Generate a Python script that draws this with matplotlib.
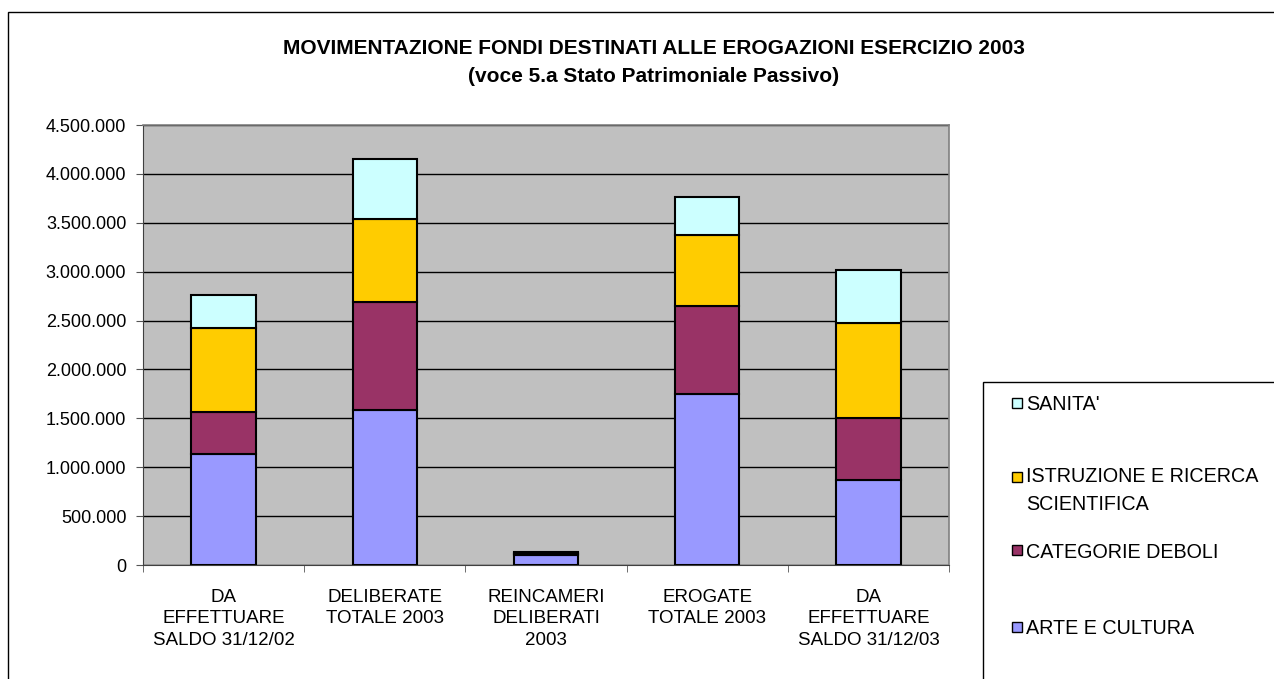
import matplotlib
matplotlib.use("Agg")
import matplotlib.pyplot as plt
import numpy as np
from matplotlib.patches import Rectangle

plt.rcParams['font.family'] = ['Liberation Sans', 'DejaVu Sans']

categories = ["DA\nEFFETTUARE\nSALDO 31/12/02", "DELIBERATE\nTOTALE 2003",
              "REINCAMERI\nDELIBERATI\n2003", "EROGATE\nTOTALE 2003",
              "DA\nEFFETTUARE\nSALDO 31/12/03"]
series_names = ["ARTE E CULTURA", "CATEGORIE DEBOLI",
                "ISTRUZIONE E RICERCA\nSCIENTIFICA", "SANITA'"]
arte = [1135000, 1585000, 102000, 1748000, 866000]
categorie = [426000, 1107000, 12000, 900000, 640000]
istruzione = [862000, 842000, 10000, 722000, 964000]
sanita = [334000, 618000, 6000, 390000, 550000]
yticks = [0, 500000, 1000000, 1500000, 2000000, 2500000, 3000000, 3500000, 4000000, 4500000]
ytick_labels = ["0", "500.000", "1.000.000", "1.500.000", "2.000.000", "2.500.000",
                "3.000.000", "3.500.000", "4.000.000", "4.500.000"]
title = "MOVIMENTAZIONE FONDI DESTINATI ALLE EROGAZIONI ESERCIZIO 2003\n(voce 5.a Stato Patrimoniale Passivo)"

colors = ["#9999FF", "#993366", "#FFCC00", "#CCFFFF"]

W, H = 1274, 679
fig = plt.figure(figsize=(W / 100, H / 100), dpi=100)
fig.patch.set_facecolor("white")

def fx(px):
    return px / W

def fy(py):
    return 1 - py / H

# outer chart border
fig.patches.append(Rectangle((fx(8), fy(700)), fx(1300) - fx(8), fy(12) - fy(700),
                             transform=fig.transFigure, fill=False,
                             edgecolor="black", linewidth=1.0))

ax = fig.add_axes([fx(143), fy(565), fx(949) - fx(143), fy(125) - fy(565)])
ax.set_facecolor("#C0C0C0")

x = np.arange(len(categories))
data = [arte, categorie, istruzione, sanita]
bottom = np.zeros(len(categories))
for vals, c, name in zip(data, colors, series_names):
    ax.bar(x, vals, width=0.4, bottom=bottom, color=c, edgecolor="black",
           linewidth=1.5, label=name, zorder=3)
    bottom += np.array(vals)

ax.set_xlim(-0.5, len(categories) - 0.5)
ax.set_ylim(0, 4500000)
ax.set_yticks(yticks)
ax.set_yticklabels(ytick_labels, fontsize=13)
ax.yaxis.grid(True, color="black", linewidth=1.0, zorder=1)
ax.set_axisbelow(True)

ax.set_xticks(x)
ax.set_xticklabels(categories, fontsize=13.5, linespacing=1.35)
ax.set_xticks(np.arange(-0.5, len(categories)), minor=True)
ax.tick_params(axis="x", which="major", length=0, pad=17)
ax.tick_params(axis="x", which="minor", length=5, color="#555555")
ax.tick_params(axis="y", length=5, pad=7, color="#555555")

for s in ["top", "right"]:
    ax.spines[s].set_color("#808080")
    ax.spines[s].set_linewidth(1.2)
ax.spines["left"].set_color("#404040")
ax.spines["bottom"].set_color("#404040")

fig.text(fx(654), fy(63), title, ha="center", va="center", fontsize=15,
         fontweight="bold", linespacing=1.6)

# legend box
fig.patches.append(Rectangle((fx(983), fy(700)), fx(1300) - fx(983), fy(382) - fy(700),
                             transform=fig.transFigure, fill=False,
                             edgecolor="black", linewidth=1.0))
leg_y = [627, 550, 477, 403]
for name, c, py in zip(series_names, colors, leg_y):
    fig.patches.append(Rectangle((fx(1012), fy(py + 5)), fx(10), 10 / H,
                                 transform=fig.transFigure, facecolor=c,
                                 edgecolor="black", linewidth=1.0))
    if "\n" in name:
        fig.text(fx(1026), fy(py - 10), name, ha="left", va="top",
                 fontsize=14.2, linespacing=1.6)
    else:
        fig.text(fx(1026), fy(py + 2), name, ha="left", va="center",
                 fontsize=14.2)

fig.savefig("out.png", dpi=100)
